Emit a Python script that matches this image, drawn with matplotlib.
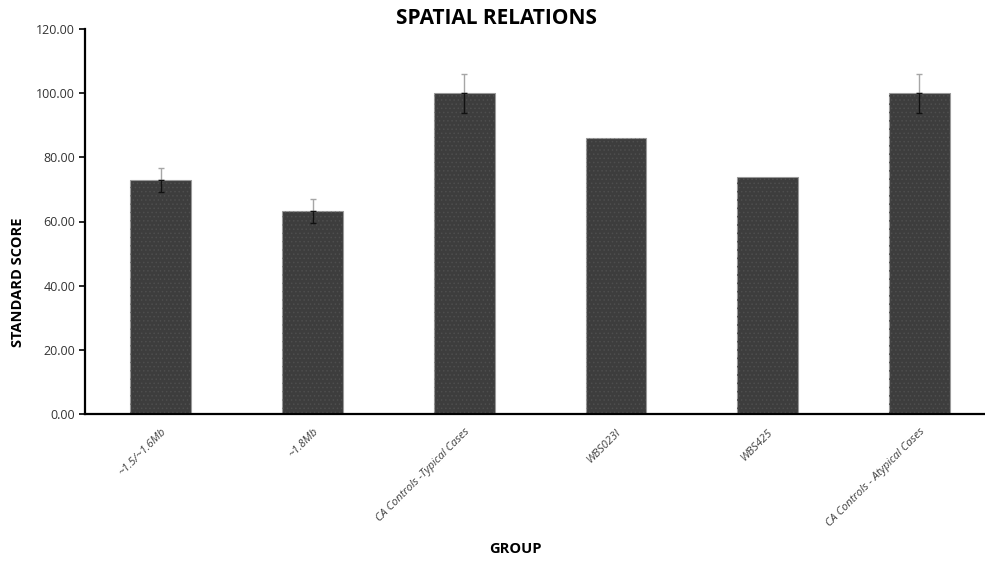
import numpy as np
import matplotlib
matplotlib.use("Agg")
import matplotlib.pyplot as plt

plt.rcParams['font.family'] = ['Open Sans', 'DejaVu Sans']
plt.rcParams['hatch.linewidth'] = 0.6

groups = ["~1.5/~1.6Mb", "~1.8Mb", "CA Controls -Typical Cases",
          "WBS023I", "WBS425", "CA Controls - Atypical Cases"]
scores = [73.0, 63.2, 100.0, 86.0, 74.0, 100.0]
errors = [3.8, 3.8, 6.1, 0.0, 0.0, 6.1]

fig = plt.figure(figsize=(9.85, 5.61), dpi=100)
ax = fig.add_axes([85 / 985, 147 / 561, 910 / 985, 385 / 561])

x = np.arange(len(groups))
ax.bar(x, scores, width=0.4, color="#3d3d3d", edgecolor="#9a9a9a", linewidth=0.8, zorder=2)
# fine dotted texture on the bars
ax.bar(x, scores, width=0.4, fill=False, hatch="....", edgecolor="#4e4e4e", linewidth=0, zorder=2.5)

# error bars: grey above the bar, black where they run over it
has_err = [i for i, e in enumerate(errors) if e > 0]
ex = x[has_err]
ey = np.array(scores)[has_err]
ee = np.array(errors)[has_err]
ax.errorbar(ex, ey, yerr=[np.zeros_like(ee), ee], fmt="none", ecolor="#a6a6a6",
            elinewidth=1.0, capsize=2.5, capthick=1.0, zorder=3)
ax.errorbar(ex, ey, yerr=[ee, np.zeros_like(ee)], fmt="none", ecolor="#111111",
            elinewidth=1.0, capsize=2.5, capthick=1.0, zorder=3)

ax.set_xlim(-0.5, len(groups) - 0.5)
ax.set_ylim(0, 120)
ax.set_yticks(np.arange(0, 121, 20))
ax.set_yticklabels([f"{v:.2f}" for v in np.arange(0, 121, 20)], fontsize=9, color="#333333")
ax.set_xticks(x)
ax.set_xticklabels(groups, rotation=45, ha="right", rotation_mode="anchor",
                   fontsize=8, fontstyle="italic", color="#404040")
ax.tick_params(axis="x", length=0, pad=9)
ax.tick_params(axis="y", length=4, width=1.2, direction="out", pad=3)

for side in ["top", "right"]:
    ax.spines[side].set_visible(False)
ax.spines["left"].set_linewidth(1.6)
ax.spines["bottom"].set_linewidth(1.6)

fig.text(497 / 985, 1 - 18 / 561, "SPATIAL RELATIONS", ha="center", va="center",
         fontsize=15, fontweight="bold")
fig.text(18 / 985, 1 - 282 / 561, "STANDARD SCORE", ha="center", va="center",
         rotation=90, fontsize=10.5, fontweight="bold")
fig.text(515 / 985, 1 - 549 / 561, "GROUP", ha="center", va="center",
         fontsize=10.5, fontweight="bold")

fig.savefig("out.png", dpi=100, facecolor="white")
